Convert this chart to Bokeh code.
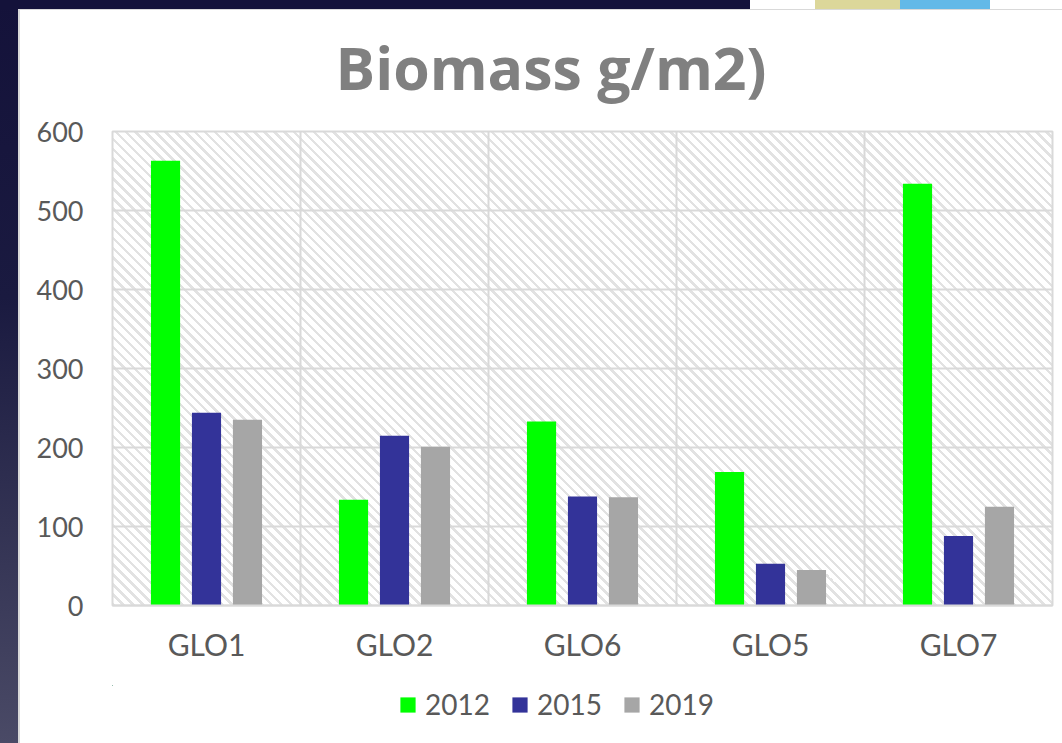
from bokeh.plotting import figure
from bokeh.embed import file_html
from bokeh.layouts import column
from bokeh.resources import INLINE
from bokeh.models import Range1d, FixedTicker, Legend, LegendItem, Title

sites = ["GLO1", "GLO2", "GLO6", "GLO5", "GLO7"]
years = ["2012", "2015", "2019"]
v2012 = [563, 134, 233, 169, 534]
v2015 = [244, 215, 138, 53, 88]
v2019 = [235, 201, 137, 45, 125]
colors = ["#00ff00", "#333399", "#a6a6a6"]
y_ticks = [0, 100, 200, 300, 400, 500, 600]

p = figure(width=1062, height=685, output_backend="svg", toolbar_location=None,
           x_range=Range1d(0, 5), y_range=Range1d(0, 600),
           min_border_left=112, min_border_right=10, min_border_top=131, min_border_bottom=80)
p.border_fill_color = None
p.background_fill_color = None
p.outline_line_color = "#d9d9d9"
p.outline_line_width = 2

centers = [i + 0.5 for i in range(len(sites))]
p.xaxis.ticker = FixedTicker(ticks=centers)
p.xaxis.major_label_overrides = {c: s for c, s in zip(centers, sites)}
p.yaxis.ticker = FixedTicker(ticks=y_ticks)
p.xgrid.ticker = FixedTicker(ticks=list(range(1, len(sites))))
for g in (p.xgrid[0], p.ygrid[0]):
    g.grid_line_color = "#d9d9d9"
    g.grid_line_width = 2
for ax in (p.xaxis[0], p.yaxis[0]):
    ax.major_tick_line_color = None
    ax.minor_tick_line_color = None
    ax.major_label_text_font = "Lato"
    ax.major_label_text_font_size = "27px"
    ax.major_label_text_color = "#595959"
p.xaxis.major_label_text_font_size = "30px"
p.yaxis.axis_line_color = None
p.xaxis.axis_line_color = "#d9d9d9"
p.xaxis.axis_line_width = 2
p.xaxis.major_label_standoff = 14
p.yaxis.major_label_standoff = 23

bw = 0.155
step = 0.218
series = [v2012, v2015, v2019]
for k, (vals, col) in enumerate(zip(series, colors)):
    p.vbar(x=[c + (k - 1) * step for c in centers], top=vals, width=bw,
           color=col, line_color=None)

p.title = Title(text="Biomass g/m2)", text_font="Open Sans", text_font_size="59px",
                text_font_style="bold", text_color="#808080", align="left",
                offset=223, standoff=49)

# Legend strip under the chart; its bars lie outside the view, only the legend shows.
lg = figure(width=1062, height=58, output_backend="svg", toolbar_location=None,
            x_axis_type=None, y_axis_type=None, x_range=Range1d(100, 101), y_range=Range1d(-20, -10),
            min_border=0)
lg.border_fill_color = None
lg.background_fill_color = None
lg.outline_line_color = None
lg.grid.visible = False
items = []
for vals, col, yr in zip(series, colors, years):
    r = lg.vbar(x=centers, top=vals, width=0, color=col, line_color=None)
    items.append(LegendItem(label=yr, renderers=[r]))
leg = Legend(items=items, orientation="horizontal", location=(286, 22),
             glyph_width=19, glyph_height=19, label_text_font="Lato",
             label_text_font_size="28px", label_text_color="#595959",
             background_fill_alpha=0, border_line_color=None, spacing=20,
             label_standoff=8, padding=0, margin=0)
lg.add_layout(leg, "center")

html = file_html(column(p, lg, spacing=0), INLINE)
css = ("<style>html{background:"
       "linear-gradient(#d9d9d9,#d9d9d9) 18px 9px/1044px 1px no-repeat,"
       "linear-gradient(#d9d9d9,#d9d9d9) 18px 9px/2px 734px no-repeat,"
       "linear-gradient(#62b9e8,#62b9e8) 900px 0/90px 10px no-repeat,"
       "linear-gradient(#dcd79a,#dcd79a) 815px 0/85px 10px no-repeat,"
       "linear-gradient(#14123a,#14123a) 0 0/750px 10px no-repeat,"
       "linear-gradient(#14123a,#1a1a40 40%,#4a4a66) 0 0/18px 743px no-repeat,"
       "repeating-linear-gradient(45deg,#e2e2e2 0,#e2e2e2 2.5px,#ffffff 2.5px,#ffffff 7px) 112px 131px/940px 474px no-repeat,"
       "#ffffff;}body{background:transparent;overflow:hidden}</style>")
html = html.replace("<head>", "<head>" + css, 1)
open("out.html", "w").write(html)
